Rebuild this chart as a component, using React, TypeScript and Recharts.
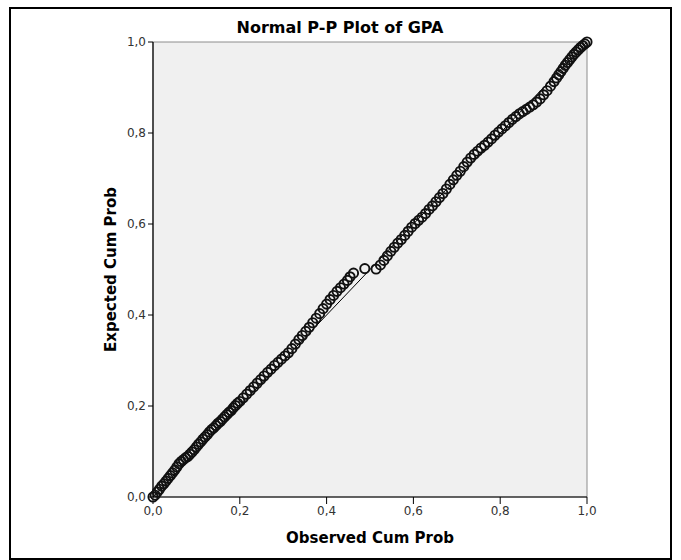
import React from 'react';
import {
  ScatterChart,
  Scatter,
  XAxis,
  YAxis,
  ReferenceArea,
  ReferenceLine,
} from 'recharts';

// Observed cumulative probability of each case (x) and the matching expected normal cumulative probability (y)
const observedCumProb: number[] = [
  0.000, 0.005, 0.010, 0.015, 0.020, 0.025, 0.030, 0.035, 0.040, 0.045,
  0.050, 0.055, 0.060, 0.065, 0.070, 0.075, 0.080, 0.085, 0.090, 0.095,
  0.100, 0.105, 0.110, 0.115, 0.120, 0.125, 0.130, 0.135, 0.140, 0.145,
  0.150, 0.155, 0.160, 0.165, 0.170, 0.175, 0.180, 0.185, 0.190, 0.195,
  0.200, 0.208, 0.216, 0.224, 0.232, 0.240, 0.248, 0.256, 0.264, 0.272,
  0.280, 0.288, 0.296, 0.304, 0.312, 0.320, 0.328, 0.336, 0.344, 0.352,
  0.360, 0.368, 0.376, 0.384, 0.392, 0.400, 0.408, 0.416, 0.424, 0.432,
  0.440, 0.448, 0.454, 0.462, 0.488, 0.514, 0.524, 0.532, 0.540, 0.548,
  0.556, 0.564, 0.572, 0.580, 0.588, 0.596, 0.604, 0.612, 0.620, 0.628,
  0.636, 0.644, 0.652, 0.660, 0.668, 0.676, 0.684, 0.692, 0.700, 0.708,
  0.716, 0.724, 0.732, 0.740, 0.748, 0.756, 0.764, 0.772, 0.780, 0.788,
  0.796, 0.804, 0.812, 0.820, 0.828, 0.836, 0.844, 0.852, 0.860, 0.868,
  0.876, 0.884, 0.892, 0.900, 0.908, 0.916, 0.924, 0.930, 0.935, 0.940,
  0.945, 0.950, 0.955, 0.960, 0.965, 0.970, 0.975, 0.980, 0.985, 0.990,
  0.995, 1.000,
];

const expectedCumProb: number[] = [
  0.000, 0.004, 0.011, 0.017, 0.024, 0.029, 0.035, 0.041, 0.047, 0.053,
  0.059, 0.066, 0.073, 0.078, 0.082, 0.086, 0.089, 0.094, 0.099, 0.104,
  0.110, 0.116, 0.121, 0.127, 0.132, 0.137, 0.143, 0.148, 0.152, 0.157,
  0.162, 0.166, 0.171, 0.176, 0.181, 0.186, 0.190, 0.196, 0.201, 0.206,
  0.210, 0.218, 0.226, 0.234, 0.242, 0.250, 0.258, 0.266, 0.274, 0.281,
  0.289, 0.296, 0.303, 0.310, 0.317, 0.326, 0.336, 0.346, 0.355, 0.364,
  0.373, 0.383, 0.393, 0.403, 0.414, 0.424, 0.434, 0.443, 0.452, 0.460,
  0.468, 0.476, 0.484, 0.492, 0.502, 0.501, 0.510, 0.520, 0.530, 0.540,
  0.549, 0.558, 0.566, 0.575, 0.584, 0.593, 0.601, 0.608, 0.615, 0.623,
  0.632, 0.640, 0.649, 0.658, 0.667, 0.677, 0.687, 0.697, 0.707, 0.716,
  0.726, 0.736, 0.745, 0.753, 0.760, 0.767, 0.773, 0.780, 0.787, 0.795,
  0.802, 0.809, 0.816, 0.823, 0.830, 0.836, 0.842, 0.847, 0.852, 0.857,
  0.862, 0.868, 0.875, 0.884, 0.893, 0.903, 0.913, 0.921, 0.928, 0.935,
  0.942, 0.949, 0.955, 0.961, 0.967, 0.973, 0.978, 0.983, 0.988, 0.992,
  0.996, 1.000,
];

const axisTicks: number[] = [0, 0.2, 0.4, 0.6, 0.8, 1.0];

const points = observedCumProb.map((x, i) => ({ x, y: expectedCumProb[i] }));

const FONT = '"DejaVu Sans", sans-serif';
const fmt = (v: number) => v.toFixed(1).replace('.', ',');

const OpenCircle = (props: any) => {
  const { cx, cy } = props;
  if (cx == null || cy == null) return null;
  return <circle cx={cx} cy={cy} r={4.6} fill="none" stroke="#111" strokeWidth={1.9} />;
};

export default function App() {
  return (
    <div style={{ position: 'absolute', left: 0, top: 0, width: 681, height: 560, background: '#fff' }}>
      <ScatterChart
        width={681}
        height={560}
        margin={{ top: 42, right: 94, bottom: 0, left: 0 }}
      >
        <ReferenceArea
          x1={0}
          x2={1}
          y1={0}
          y2={1}
          fill="#f0f0f0"
          fillOpacity={1}
          stroke="#8c8c8c"
          strokeWidth={1}
        />
        <XAxis
          type="number"
          dataKey="x"
          domain={[0, 1]}
          ticks={axisTicks}
          tickFormatter={fmt}
          height={63}
          tickSize={7}
          axisLine={{ stroke: '#000', strokeWidth: 1.2 }}
          tickLine={{ stroke: '#000' }}
          tick={{ fill: '#333', fontSize: 12, fontFamily: FONT }}
          label={{
            value: 'Observed Cum Prob',
            position: 'insideBottom',
            offset: 17,
            style: { fill: '#000', fontSize: 15, fontWeight: 'bold', fontFamily: FONT },
          }}
        />
        <YAxis
          type="number"
          dataKey="y"
          domain={[0, 1]}
          ticks={axisTicks}
          tickFormatter={fmt}
          width={153}
          tickSize={5}
          axisLine={{ stroke: '#000', strokeWidth: 1.2 }}
          tickLine={{ stroke: '#000' }}
          tick={{ fill: '#333', fontSize: 12, fontFamily: FONT }}
          label={{
            value: 'Expected Cum Prob',
            angle: -90,
            position: 'insideLeft',
            offset: 111,
            style: { textAnchor: 'middle', fill: '#000', fontSize: 15, fontWeight: 'bold', fontFamily: FONT },
          }}
        />
        <ReferenceLine
          segment={[{ x: 0, y: 0 }, { x: 1, y: 1 }]}
          stroke="#000"
          strokeWidth={1}
        />
        <Scatter data={points} shape={OpenCircle} isAnimationActive={false} />
        <text
          x={340}
          y={33}
          textAnchor="middle"
          fontFamily={FONT}
          fontSize={16}
          fontWeight="bold"
          fill="#000"
        >
          Normal P-P Plot of GPA
        </text>
        <rect x={10} y={8} width={661} height={551} fill="none" stroke="#000" strokeWidth={2} />
      </ScatterChart>
    </div>
  );
}
